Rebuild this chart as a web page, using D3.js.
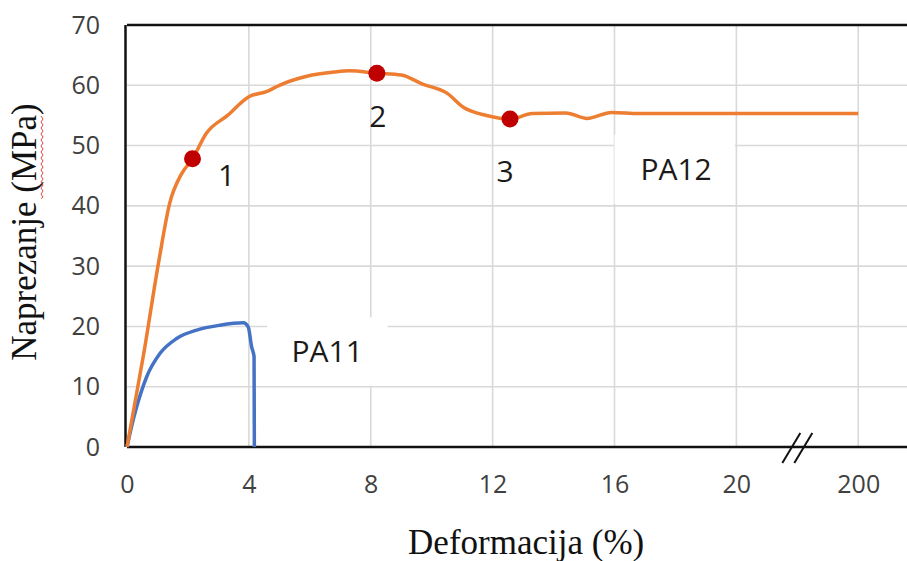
<!DOCTYPE html>
<html>
<head>
<meta charset="utf-8">
<script src="https://cdn.jsdelivr.net/npm/d3@7"></script>
<style>
  body { margin: 0; background: #fff; }
  .tick text { font-family: "Open Sans", Lato, sans-serif; font-size: 25px; fill: #404040; }
  .grid line { stroke: #d9d9d9; stroke-width: 1.6; }
  .axis-title { font-family: "Liberation Serif", "Times New Roman", serif; font-size: 35px; fill: #111; }
  .note { font-family: "Open Sans", Lato, sans-serif; font-size: 30px; fill: #1a1a1a; }
</style>
</head>
<body>
<svg id="chart" width="907" height="561"></svg>
<script>
// strain (%) on a broken axis: position 24 stands for 200 %
const pa12Strain = [0, 0.55, 1.05, 1.4, 1.8, 2.15, 2.6, 3.3, 4.0, 4.6, 5.0, 5.9, 6.8, 7.3, 8.2, 9.0, 9.7, 10.5, 11.05, 11.8, 12.57, 13.3, 14.4, 15.1, 15.9, 16.8, 24];
const pa12Stress = [0, 15.5, 31, 40.4, 45.4, 47.8, 52.0, 55.0, 58.1, 59.0, 60.0, 61.5, 62.2, 62.4, 62.0, 61.7, 60.2, 58.7, 56.3, 55.0, 54.4, 55.3, 55.4, 54.5, 55.5, 55.3, 55.3];

const pa11Strain = [0, 0.15, 0.32, 0.65, 1.08, 1.63, 2.29, 3.05, 3.82, 3.98, 4.09, 4.17, 4.18];
const pa11Stress = [0, 3.4, 6.7, 11.7, 15.5, 18.0, 19.4, 20.2, 20.6, 19.9, 16.6, 15.0, 0];

const markerStrain = [2.15, 8.2, 12.57];
const markerStress = [47.8, 62.0, 54.4];
const markerLabels = ['1', '2', '3'];

const xTicks = [0, 4, 8, 12, 16, 20, 24];
const xTickLabels = ['0', '4', '8', '12', '16', '20', '200'];
const yTicks = [0, 10, 20, 30, 40, 50, 60, 70];
const axisBreakAt = 22;

const svg = d3.select('#chart');
const margin = {top: 25, left: 127, bottom: 114};
const width = 907 - margin.left;
const height = 561 - margin.top - margin.bottom;

const x = d3.scaleLinear().domain([0, 25.6]).range([0, width]);
const y = d3.scaleLinear().domain([0, 70]).range([height, 0]);

const g = svg.append('g').attr('transform', `translate(${margin.left},${margin.top})`);

// grid
g.append('g').attr('class', 'grid')
  .selectAll('line').data(yTicks.slice(1, -1)).enter().append('line')
  .attr('x1', 0).attr('x2', width)
  .attr('y1', d => y(d)).attr('y2', d => y(d));
g.append('g').attr('class', 'grid')
  .selectAll('line').data(xTicks.slice(1)).enter().append('line')
  .attr('x1', d => x(d)).attr('x2', d => x(d))
  .attr('y1', 0).attr('y2', height);

// white boxes behind the series names (they hide the grid)
const nameBoxes = [
  {name: 'PA11', x0: 4.6, x1: 8.55, y0: 10.2, y1: 21.5, tx: 5.4},
  {name: 'PA12', x0: 16.0, x1: 19.95, y0: 40.3, y1: 51.8, tx: 16.85}
];
g.selectAll('.name-box').data(nameBoxes).enter().append('rect')
  .attr('class', 'name-box')
  .attr('x', d => x(d.x0)).attr('width', d => x(d.x1) - x(d.x0))
  .attr('y', d => y(d.y1)).attr('height', d => y(d.y0) - y(d.y1))
  .attr('fill', '#fff');

// axes, labels only
g.append('g')
  .call(d3.axisLeft(y).tickValues(yTicks).tickSize(0).tickPadding(27))
  .call(a => a.select('.domain').remove());
g.append('g')
  .attr('transform', `translate(0,${height})`)
  .call(d3.axisBottom(x).tickValues(xTicks).tickSize(0).tickPadding(28)
    .tickFormat((d, i) => xTickLabels[i]))
  .call(a => a.select('.domain').remove());

// frame lines
g.append('line').attr('x1', 0).attr('x2', width).attr('y1', 0).attr('y2', 0)
  .attr('stroke', '#111').attr('stroke-width', 2.5);
g.append('line').attr('x1', 0).attr('x2', width).attr('y1', height).attr('y2', height)
  .attr('stroke', '#111').attr('stroke-width', 2.5);
g.append('line').attr('x1', -1.5).attr('x2', -1.5).attr('y1', 0).attr('y2', height)
  .attr('stroke', '#111').attr('stroke-width', 2.5);

// axis break mark
const bx = x(axisBreakAt);
[-6, 6].forEach(off => {
  g.append('line')
    .attr('x1', bx + off - 9).attr('y1', height + 16)
    .attr('x2', bx + off + 9).attr('y2', height - 14)
    .attr('stroke', '#111').attr('stroke-width', 2);
});

// series
const smooth = d3.line().x(d => x(d[0])).y(d => y(d[1])).curve(d3.curveMonotoneX);

g.append('path')
  .datum(pa11Strain.map((s, i) => [s, pa11Stress[i]]))
  .attr('d', smooth)
  .attr('fill', 'none').attr('stroke', '#4472c4').attr('stroke-width', 3.5)
  .attr('stroke-linejoin', 'round');

g.append('path')
  .datum(pa12Strain.map((s, i) => [s, pa12Stress[i]]))
  .attr('d', smooth)
  .attr('fill', 'none').attr('stroke', '#ed7d31').attr('stroke-width', 3.5)
  .attr('stroke-linejoin', 'round');

g.selectAll('.marker').data(markerStrain).enter().append('circle')
  .attr('class', 'marker')
  .attr('cx', d => x(d)).attr('cy', (d, i) => y(markerStress[i]))
  .attr('r', 8.5).attr('fill', '#c00000');

// point numbers
const numberOffsets = [[34, 27], [1, 54], [-5, 63]];
g.selectAll('.num').data(markerLabels).enter().append('text')
  .attr('class', 'note')
  .attr('x', (d, i) => x(markerStrain[i]) + numberOffsets[i][0])
  .attr('y', (d, i) => y(markerStress[i]) + numberOffsets[i][1])
  .attr('text-anchor', 'middle')
  .text(d => d);

// series names
g.selectAll('.series-name').data(nameBoxes).enter().append('text')
  .attr('class', 'note')
  .attr('x', d => x(d.tx))
  .attr('y', d => (y(d.y0) + y(d.y1)) / 2 + 11)
  .text(d => d.name);

// axis titles
svg.append('text').attr('class', 'axis-title')
  .attr('x', margin.left + x(13.1)).attr('y', 554)
  .attr('text-anchor', 'middle')
  .text('Deformacija (%)');

const yTitle = svg.append('text').attr('class', 'axis-title')
  .attr('transform', 'translate(36,232) rotate(-90)')
  .attr('text-anchor', 'middle')
  .text('Naprezanje (MPa)');

// red squiggle under "MPa"
const bb = yTitle.node().getBBox();
const sq = d3.path();
const sqStart = bb.x + bb.width * 0.63, sqEnd = bb.x + bb.width - 12;
sq.moveTo(sqStart, 5);
for (let p = sqStart; p < sqEnd; p += 3) sq.lineTo(p + 1.5, (Math.round((p - sqStart) / 3) % 2) ? 5 : 7);
svg.append('path')
  .attr('transform', 'translate(36,232) rotate(-90)')
  .attr('d', sq.toString())
  .attr('fill', 'none').attr('stroke', '#e03030').attr('stroke-width', 0.9);
</script>
</body>
</html>
